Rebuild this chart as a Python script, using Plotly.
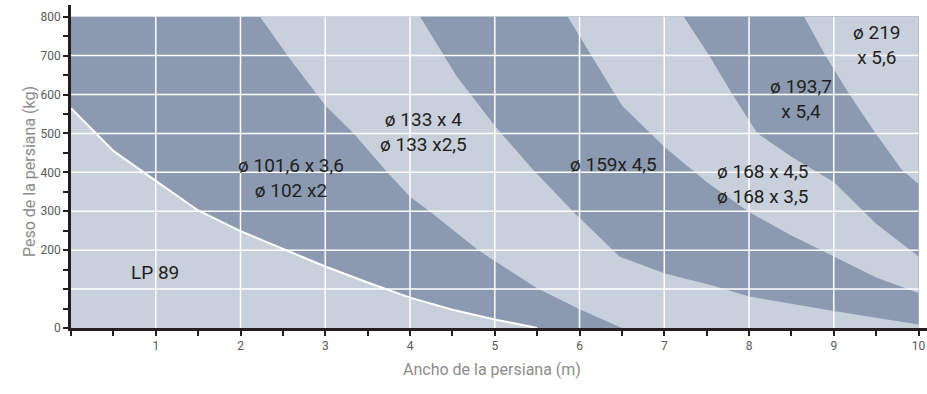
import plotly.graph_objects as go

# axis extent of the coloured area
X_MAX = 10
Y_TOP = 800

# limit curves (ancho m, peso kg), top-left to bottom-right
lp89_x = [0, 0.5, 1.0, 1.5, 2.0, 2.5, 3.0, 3.5, 4.0, 4.5, 5.0, 5.5]
lp89_y = [565, 455, 378, 302, 249, 204, 158, 117, 78, 47, 22, 0]

d101_x = [2.23, 2.56, 3.0, 3.33, 3.74, 4.0, 4.23, 4.5, 4.8, 5.0, 5.5, 6.0, 6.5]
d101_y = [800, 698, 572, 501, 398, 337, 300, 252, 201, 172, 102, 48, 0]

d133_x = [4.12, 4.55, 5.0, 5.45, 5.92, 6.47, 7.0, 7.6, 8.0, 9.0, 10.0]
d133_y = [800, 647, 520, 407, 300, 184, 141, 107, 81, 44, 9]

d159_x = [5.86, 6.5, 7.0, 7.5, 8.0, 8.5, 9.0, 9.5, 10.0]
d159_y = [800, 572, 466, 375, 298, 238, 184, 130, 90]

d168_x = [7.23, 7.53, 7.8, 8.1, 8.5, 9.0, 9.5, 10.0]
d168_y = [800, 700, 602, 500, 440, 375, 268, 184]

d193_x = [8.65, 8.9, 9.18, 9.49, 9.8, 10.0]
d193_y = [800, 701, 602, 501, 407, 370]

bands = [(d101_x, d101_y), (d133_x, d133_y), (d159_x, d159_y),
         (d168_x, d168_y), (d193_x, d193_y)]

# labels
lab_text = ["LP 89", "ø 101,6 x 3,6<br>ø 102 x2", "ø 133 x 4<br>ø 133 x2,5",
            "ø 159x 4,5", "ø 168 x 4,5<br>ø 168 x 3,5", "ø 193,7<br>x 5,4",
            "ø 219<br>x 5,6"]
lab_x = [0.99, 2.6, 4.16, 6.4, 8.16, 8.61, 9.51]
lab_y = [143, 385, 503, 420, 371, 589, 726]

DARK = "#8b9ab1"
LIGHT = "#c8d0dc"
INK = "#231f20"
TITLE_GREY = "#8c8c8c"


def region(bx, by):
    """polygon of everything right/above of a limit curve"""
    xs, ys = list(bx), list(by)
    if xs[-1] < X_MAX:
        xs.append(X_MAX)
        ys.append(0)
    xs.append(X_MAX)
    ys.append(Y_TOP)
    if ys[0] < Y_TOP:
        xs.insert(0, xs[0])
        ys.insert(0, Y_TOP)
    return xs, ys


fig = go.Figure()

# base (LP 89 zone)
fig.add_trace(go.Scatter(x=[0, X_MAX, X_MAX, 0], y=[0, 0, Y_TOP, Y_TOP], fill="toself",
                         fillcolor=LIGHT, line=dict(width=0), mode="lines", hoverinfo="skip"))
xs, ys = region(lp89_x, lp89_y)
fig.add_trace(go.Scatter(x=xs, y=ys, fill="toself", fillcolor=DARK, line=dict(width=0),
                         mode="lines", hoverinfo="skip"))
for i, (bx, by) in enumerate(bands):
    xs, ys = region(bx, by)
    fig.add_trace(go.Scatter(x=xs, y=ys, fill="toself", fillcolor=LIGHT if i % 2 == 0 else DARK,
                             line=dict(width=0), mode="lines", hoverinfo="skip"))
# white LP 89 line
fig.add_trace(go.Scatter(x=lp89_x, y=lp89_y, mode="lines", line=dict(color="white", width=2),
                         hoverinfo="skip"))

# white grid above the bands
for gx in range(1, X_MAX):
    fig.add_shape(type="line", x0=gx, x1=gx, y0=0, y1=Y_TOP, layer="above",
                  line=dict(color="white", width=1.5))
for gy in range(100, Y_TOP, 100):
    fig.add_shape(type="line", x0=0, x1=X_MAX, y0=gy, y1=gy, layer="above",
                  line=dict(color="white", width=1.5))

for t, x, y in zip(lab_text, lab_x, lab_y):
    fig.add_annotation(x=x, y=y, text=t, showarrow=False,
                       font=dict(family="Roboto", size=19, color=INK))

# axis titles
fig.add_annotation(x=0, xref="paper", xshift=-53, y=402, yref="y", textangle=-90,
                   text="Peso de la persiana (kg)", showarrow=False,
                   font=dict(family="Roboto", size=16, color=TITLE_GREY))
fig.add_annotation(x=4.97, y=0, yref="paper", yshift=-53,
                   text="Ancho de la persiana (m)", showarrow=False,
                   font=dict(family="Roboto", size=16, color=TITLE_GREY))

tick_font = dict(family="Roboto", size=12, color="#58595b")
fig.update_xaxes(range=[0, 10.1], showgrid=False, zeroline=False, automargin=False,
                 tickvals=list(range(0, 11)), ticktext=[""] + [str(i) for i in range(1, 11)],
                 ticks="outside", ticklen=5, tickwidth=1.5, tickcolor=INK,
                 minor=dict(dtick=0.5, ticks="outside", ticklen=5, tickwidth=1.5, tickcolor=INK),
                 showline=True, linecolor=INK, linewidth=2.5, tickfont=tick_font)
fig.update_yaxes(range=[0, 830], showgrid=False, zeroline=False, automargin=False,
                 tickvals=[0, 200, 300, 400, 500, 600, 700, 800],
                 ticks="outside", ticklen=5, tickwidth=1.5, tickcolor=INK,
                 minor=dict(dtick=50, ticks="outside", ticklen=5, tickwidth=1.5, tickcolor=INK),
                 showline=True, linecolor=INK, linewidth=2.5, tickfont=tick_font)
fig.update_layout(width=927, height=394, showlegend=False,
                  margin=dict(l=71, r=0, t=5, b=66),
                  plot_bgcolor="white", paper_bgcolor="white")

# page body has a default 8px margin; drop it so the chart fills the window
fig.write_html("out.html", config={"displayModeBar": False},
               post_script="document.body.style.margin='0';")
